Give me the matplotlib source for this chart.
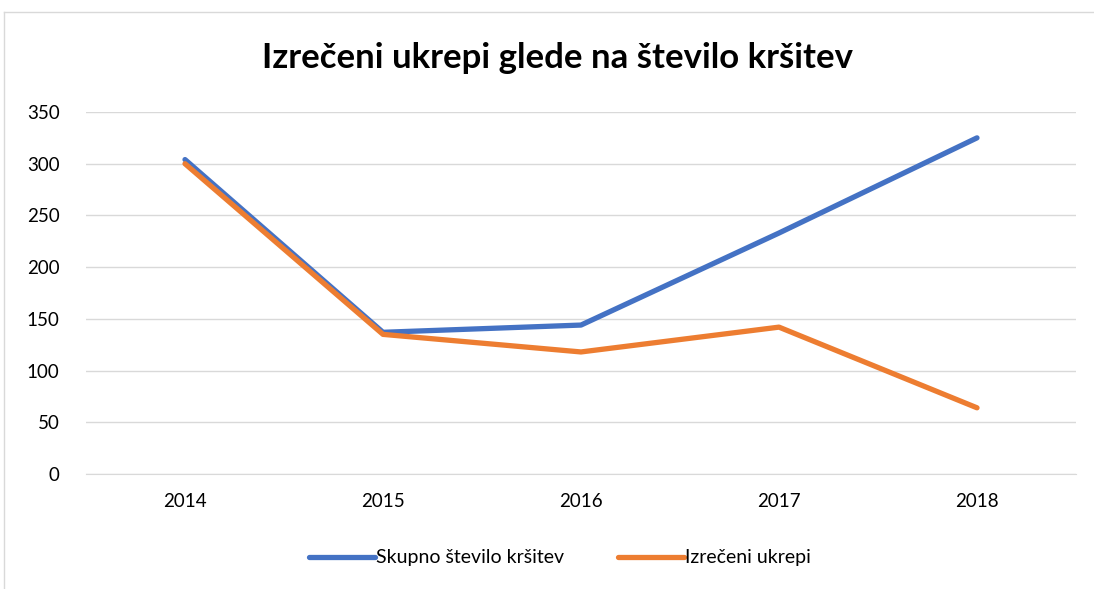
import matplotlib.pyplot as plt
from matplotlib.lines import Line2D

years = ['2014', '2015', '2016', '2017', '2018']
skupno = [304, 137, 144, 233, 325]
ukrepi = [300, 135, 118, 142, 64]

plt.rcParams['font.family'] = ['Lato', 'DejaVu Sans']

fig = plt.figure(figsize=(10.94, 5.89), dpi=100)
W, H = 1094, 589
ax = fig.add_axes([86 / W, 1 - 474 / H, (1076 - 86) / W, (474 - 112) / H])

x = range(len(years))
ax.plot(x, skupno, color='#4472C4', linewidth=3.8, solid_capstyle='round',
        solid_joinstyle='round', label='Skupno število kršitev', zorder=3)
ax.plot(x, ukrepi, color='#ED7D31', linewidth=3.8, solid_capstyle='round',
        solid_joinstyle='round', label='Izrečeni ukrepi', zorder=4)

ax.set_xlim(-0.5, len(years) - 0.5)
ax.set_ylim(0, 350)
ax.set_yticks(range(0, 351, 50))
ax.set_xticks(list(x))
ax.set_xticklabels(years)
ax.grid(axis='y', color='#D9D9D9', linewidth=1)
ax.set_axisbelow(True)
for s in ['top', 'right', 'left']:
    ax.spines[s].set_visible(False)
ax.spines['bottom'].set_color('#D9D9D9')
ax.tick_params(axis='both', length=0, labelsize=13.5, colors='#000000')
ax.tick_params(axis='y', pad=19)
ax.tick_params(axis='x', pad=14)

fig.text(557 / W, 1 - 58 / H, 'Izrečeni ukrepi glede na število kršitev',
         ha='center', va='center', fontsize=25, fontweight='bold')

fig.legend(loc='center', bbox_to_anchor=(560 / W, 1 - 558 / H), ncol=2,
           frameon=False, fontsize=14, handlelength=3.4, handletextpad=0.05,
           columnspacing=2.8)

# chart border (top and left visible)
fig.add_artist(Line2D([4 / W, 1], [1 - 12 / H, 1 - 12 / H], color='#D9D9D9', linewidth=1))
fig.add_artist(Line2D([4 / W, 4 / W], [0, 1 - 12 / H], color='#D9D9D9', linewidth=1))

fig.savefig('out.png', dpi=100)
